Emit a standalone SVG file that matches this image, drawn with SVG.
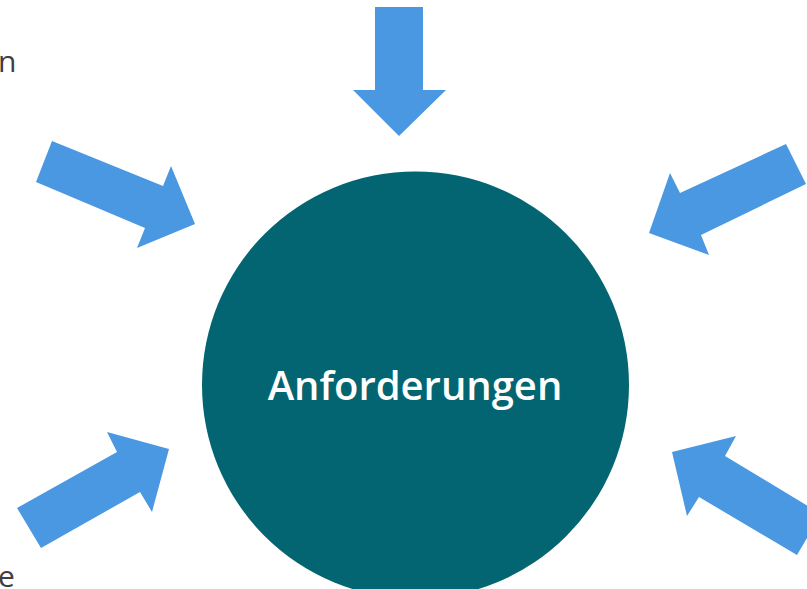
<svg xmlns="http://www.w3.org/2000/svg" width="807" height="589" viewBox="0 0 807 589">
<style>
.arrow{fill:#4A97E2;}
.lbl{font-family:"Open Sans","Noto Sans","Liberation Sans",sans-serif;font-size:30px;fill:#404040;}
.title{font-family:"Open Sans","Noto Sans","Liberation Sans",sans-serif;font-size:40px;font-weight:600;fill:#ffffff;}
</style>
<rect width="807" height="589" fill="#ffffff"/>
<g id="labels">
<text class="lbl" x="-2" y="72">n</text>
<text class="lbl" x="-2" y="587">e</text>
</g>
<g id="connectors">
<polygon class="arrow" points="375,7 423,7 423,90 446,90 399,136 353,90 375,90"/>
<polygon class="arrow" points="52,141 163,186 171,166 195,224 137,248 145,228 36,182"/>
<polygon class="arrow" points="786,144 806,184 701,235 709,255 649,233 670,173 680,193"/>
<polygon class="arrow" points="17,508 117,452 107,432 169,449 152,512 140,492 41,548"/>
<polygon class="arrow" points="672,452 736,436 725,456 821,514 797,555 699,497 687,516"/>
</g>
<g id="node-anforderungen">
<circle cx="415.5" cy="385" r="213.5" fill="#036571"/>
<text class="title" x="415" y="400" text-anchor="middle">Anforderungen</text>
</g>
</svg>
